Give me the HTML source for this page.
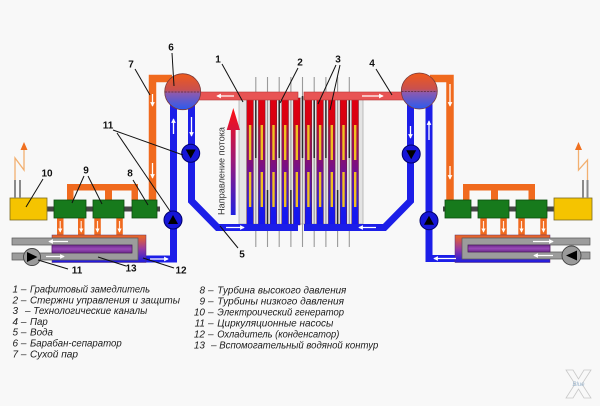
<!DOCTYPE html>
<html><head><meta charset="utf-8"><style>
html,body{margin:0;padding:0;background:#f8f8f8;}
svg{display:block;}
text{font-family:"Liberation Sans","DejaVu Sans",sans-serif;}
</style></head><body>
<svg width="600" height="406" viewBox="0 0 600 406" xmlns="http://www.w3.org/2000/svg">
<defs>
<marker id="ah" viewBox="0 0 6 6" refX="5" refY="3" markerWidth="3.6" markerHeight="3.6" orient="auto"><path d="M0,0L6,3L0,6z" fill="#fff"/></marker>
<linearGradient id="drum" x1="0" y1="0" x2="0" y2="1"><stop offset="0" stop-color="#f05a1a"/><stop offset="0.45" stop-color="#c85050"/><stop offset="0.55" stop-color="#8a5ab0"/><stop offset="1" stop-color="#2a5af0"/></linearGradient>
<linearGradient id="chan" x1="0" y1="98" x2="0" y2="225" gradientUnits="userSpaceOnUse"><stop offset="0" stop-color="#e00010"/><stop offset="0.2" stop-color="#d80010"/><stop offset="0.24" stop-color="#b01030"/><stop offset="0.55" stop-color="#781088"/><stop offset="0.8" stop-color="#3a20c8"/><stop offset="0.87" stop-color="#1818ec"/><stop offset="1" stop-color="#1515f0"/></linearGradient>
<linearGradient id="flow" x1="0" y1="108" x2="0" y2="215" gradientUnits="userSpaceOnUse"><stop offset="0" stop-color="#ff1010"/><stop offset="0.5" stop-color="#9a1a7a"/><stop offset="1" stop-color="#2020e0"/></linearGradient>
<linearGradient id="cond" x1="0" y1="0" x2="0" y2="1"><stop offset="0" stop-color="#f06a1e"/><stop offset="0.5" stop-color="#9a3aa0"/><stop offset="1" stop-color="#1a1ae0"/></linearGradient>
<linearGradient id="purp" x1="0" y1="0" x2="0" y2="1"><stop offset="0" stop-color="#6a2a8a"/><stop offset="0.5" stop-color="#9a4ab8"/><stop offset="1" stop-color="#6a2a8a"/></linearGradient>
</defs>
<rect width="600" height="406" fill="#f8f8f8"/>

<!-- ============ REACTOR ============ -->
<rect x="239" y="98" width="124" height="126" fill="#e4e4e4" stroke="#b0b0b0" stroke-width="0.8"/>
<g fill="url(#chan)" stroke="#5a1020" stroke-width="0.4">
<rect x="246.7" y="98" width="6.7" height="127"/>
<rect x="258.4" y="98" width="6.7" height="127"/>
<rect x="270.1" y="98" width="6.7" height="127"/>
<rect x="281.8" y="98" width="6.7" height="127"/>
<rect x="293.4" y="98" width="6.7" height="127"/>
<rect x="305" y="98" width="6.7" height="127"/>
<rect x="316.7" y="98" width="6.7" height="127"/>
<rect x="328.4" y="98" width="6.7" height="127"/>
<rect x="340.1" y="98" width="6.7" height="127"/>
<rect x="351.8" y="98" width="6.7" height="127"/>
</g>
<g fill="#f2c020">
<rect x="248.9" y="125" width="2.4" height="35"/><rect x="248.9" y="172" width="2.4" height="35"/>
<rect x="260.6" y="125" width="2.4" height="35"/><rect x="260.6" y="172" width="2.4" height="35"/>
<rect x="272.3" y="125" width="2.4" height="35"/><rect x="272.3" y="172" width="2.4" height="35"/>
<rect x="284" y="125" width="2.4" height="35"/><rect x="284" y="172" width="2.4" height="35"/>
<rect x="295.6" y="125" width="2.4" height="35"/><rect x="295.6" y="172" width="2.4" height="35"/>
<rect x="307.2" y="125" width="2.4" height="35"/><rect x="307.2" y="172" width="2.4" height="35"/>
<rect x="318.9" y="125" width="2.4" height="35"/><rect x="318.9" y="172" width="2.4" height="35"/>
<rect x="330.6" y="125" width="2.4" height="35"/><rect x="330.6" y="172" width="2.4" height="35"/>
<rect x="342.3" y="125" width="2.4" height="35"/><rect x="342.3" y="172" width="2.4" height="35"/>
<rect x="354" y="125" width="2.4" height="35"/><rect x="354" y="172" width="2.4" height="35"/>
</g>
<!-- control rods -->
<g stroke="#9a9a9a" stroke-width="1.1">
<line x1="255.8" y1="77" x2="255.8" y2="247"/>
<line x1="267.5" y1="77" x2="267.5" y2="247"/>
<line x1="279.2" y1="77" x2="279.2" y2="247"/>
<line x1="290.9" y1="77" x2="290.9" y2="247"/>
<line x1="302.5" y1="77" x2="302.5" y2="247"/>
<line x1="314.2" y1="77" x2="314.2" y2="247"/>
<line x1="325.9" y1="77" x2="325.9" y2="247"/>
<line x1="337.6" y1="77" x2="337.6" y2="247"/>
<line x1="349.3" y1="77" x2="349.3" y2="247"/>
</g>
<g stroke="#2a2a2a" stroke-width="1.5">
<line x1="255.8" y1="96" x2="255.8" y2="158"/>
<line x1="267.5" y1="190" x2="267.5" y2="227"/>
<line x1="279.2" y1="96" x2="279.2" y2="158"/>
<line x1="290.9" y1="190" x2="290.9" y2="227"/>
<line x1="302.5" y1="96" x2="302.5" y2="158"/>
<line x1="314.2" y1="96" x2="314.2" y2="158"/>
<line x1="325.9" y1="96" x2="325.9" y2="158"/>
<line x1="337.6" y1="190" x2="337.6" y2="227"/>
<line x1="349.3" y1="96" x2="349.3" y2="158"/>
</g>

<!-- flow arrow & text -->
<path d="M230.8,215 V130 H226.7 L233.3,108 L240,130 H235.6 V215 Z" fill="url(#flow)"/>
<text transform="translate(224.5,171) rotate(-90)" text-anchor="middle" font-size="9.5" fill="#333" textLength="88" lengthAdjust="spacingAndGlyphs">Направление потока</text>

<!-- ============ ORANGE PIPES (behind drums) ============ -->
<g fill="none" stroke="#f06a1e" stroke-width="7.5" stroke-linejoin="miter">
<path d="M172,78.5 H152.5 V201"/>
<path d="M430,78.5 H450 V201"/>
</g>
<g fill="#f06a1e">
<rect x="67" y="184" width="71" height="6.5"/><rect x="67" y="184" width="6.5" height="17"/><rect x="105" y="184" width="7" height="17"/><rect x="131.5" y="184" width="6.5" height="17"/>
<rect x="463" y="184" width="72" height="6.5"/><rect x="463" y="184" width="6.5" height="17"/><rect x="491" y="184" width="7" height="17"/><rect x="528.5" y="184" width="6.5" height="17"/>
<!-- down pipes to condenser -->
<rect x="57" y="217" width="6.5" height="19"/><rect x="78" y="217" width="6.5" height="19"/><rect x="94.3" y="217" width="6.5" height="19"/><rect x="116.3" y="217" width="6.5" height="19"/>
<rect x="480.3" y="217" width="6.5" height="19"/><rect x="500.3" y="217" width="6.5" height="19"/><rect x="518.3" y="217" width="6.5" height="19"/><rect x="540.3" y="217" width="6.5" height="19"/>
</g>

<!-- ============ RED HEADER ============ -->
<rect x="196" y="92" width="102" height="8" fill="#e85454" stroke="#b83838" stroke-width="0.6"/>
<rect x="304" y="92" width="101" height="8" fill="#e85454" stroke="#b83838" stroke-width="0.6"/>

<!-- ============ BLUE PIPES ============ -->
<g fill="none" stroke="#1c1ee8" stroke-width="7" stroke-linejoin="miter">
<path d="M191.5,104 V201 L217.5,227.5 H298"/>
<path d="M410.5,104 V201 L384.5,227.5 H304"/>
<path d="M140,259 H173.5 V104"/>
<path d="M460,258.5 H429 V104"/>
</g>

<!-- ============ DRUMS ============ -->
<circle cx="182.7" cy="91.7" r="18" fill="url(#drum)" stroke="#7a3a3a" stroke-width="0.8"/>
<line x1="165" y1="92" x2="200.5" y2="92" stroke="#5a2a3a" stroke-width="0.8" stroke-dasharray="2,1.2"/>
<circle cx="419.3" cy="91" r="18" fill="url(#drum)" stroke="#7a3a3a" stroke-width="0.8"/>
<line x1="401.5" y1="91.5" x2="437" y2="91.5" stroke="#5a2a3a" stroke-width="0.8" stroke-dasharray="2,1.2"/>

<!-- ============ PUMPS (blue) ============ -->
<g fill="#1616d8" stroke="#00006a" stroke-width="1">
<circle cx="190.7" cy="153.3" r="9"/>
<circle cx="173" cy="220" r="9"/>
<circle cx="411.2" cy="154" r="9"/>
<circle cx="429" cy="220.7" r="9"/>
</g>
<g fill="#000">
<path d="M185.7,149.5 H195.7 L190.7,158.5 Z"/>
<path d="M168,224 H178 L173,215 Z"/>
<path d="M406.2,150.2 H416.2 L411.2,159.2 Z"/>
<path d="M424,224.7 H434 L429,215.7 Z"/>
</g>

<!-- ============ TURBINES / SHAFTS / GENERATORS ============ -->
<rect x="47" y="206.5" width="113" height="5" fill="#454545"/>
<rect x="443" y="206.5" width="112" height="5" fill="#454545"/>
<g fill="#177a1c" stroke="#0b4d0e" stroke-width="0.8">
<rect x="54" y="200" width="32" height="18"/><rect x="93" y="200" width="31" height="18"/><rect x="132" y="200" width="25" height="18"/>
<rect x="445" y="200" width="26" height="18"/><rect x="478" y="200" width="31" height="18"/><rect x="516" y="200" width="31" height="18"/>
</g>
<g fill="#f5c400" stroke="#7a6a20" stroke-width="0.8">
<rect x="10" y="198" width="37" height="22"/>
<rect x="554" y="198" width="38" height="22"/>
</g>
<g stroke="#8a8a8a" stroke-width="2">
<line x1="15" y1="180" x2="15" y2="198"/><line x1="20" y1="180" x2="20" y2="198"/>
<line x1="583" y1="180" x2="583" y2="198"/><line x1="587.5" y1="180" x2="587.5" y2="198"/>
</g>
<g fill="none" stroke="#f2b070" stroke-width="1.3">
<polyline points="15,180 15,158 24,170 24,149"/>
<polyline points="578.5,149 578.5,170 587.5,160 587.5,180"/>
</g>
<g fill="#f07020">
<path d="M24,142 L20.5,150 H27.5 Z"/>
<path d="M578.5,142 L575,150 H582 Z"/>
</g>

<!-- ============ CONDENSERS ============ -->
<rect x="52" y="235" width="94" height="27.5" fill="url(#cond)" stroke="#5a2a6a" stroke-width="0.5"/>
<rect x="455" y="235" width="95" height="27.5" fill="url(#cond)" stroke="#5a2a6a" stroke-width="0.5"/>
<g fill="#9c9c9c" stroke="#5a5a5a" stroke-width="0.7">
<path d="M12,238 H138 V260 H12 V253 H132 V245 H12 Z"/>
<path d="M590,238 H462 V259 H590 V252 H468 V245 H590 Z"/>
</g>
<rect x="52" y="245" width="80" height="8" fill="url(#purp)" stroke="#4a1a5a" stroke-width="0.6"/>
<rect x="468" y="245" width="82" height="7" fill="url(#purp)" stroke="#4a1a5a" stroke-width="0.6"/>
<circle cx="32" cy="257" r="8.5" fill="#9a9a9a" stroke="#444" stroke-width="0.9"/>
<path d="M27,252 V262 L37.5,257 Z" fill="#000"/>
<circle cx="571.5" cy="255.5" r="9.5" fill="#9a9a9a" stroke="#444" stroke-width="0.9"/>
<path d="M577,250.5 V260.5 L566,255.5 Z" fill="#000"/>

<!-- ============ WHITE FLOW ARROWS ============ -->
<g stroke="#fff" stroke-width="1.3" marker-end="url(#ah)" fill="none">
<line x1="152.5" y1="94" x2="152.5" y2="106"/>
<line x1="152.5" y1="163" x2="152.5" y2="178"/>
<line x1="173.5" y1="134" x2="173.5" y2="119"/>
<line x1="191.5" y1="117" x2="191.5" y2="136"/>
<line x1="150" y1="259" x2="168" y2="259"/>
<line x1="234" y1="96" x2="217" y2="96"/>
<line x1="226" y1="227.5" x2="244" y2="227.5"/>
<line x1="68" y1="241.5" x2="49" y2="241.5"/>
<line x1="46" y1="256.5" x2="64" y2="256.5"/>
<line x1="450" y1="84" x2="450" y2="106"/>
<line x1="450" y1="166" x2="450" y2="179"/>
<line x1="410.5" y1="126" x2="410.5" y2="138"/>
<line x1="429" y1="140" x2="429" y2="121"/>
<line x1="456" y1="258.5" x2="434" y2="258.5"/>
<line x1="362" y1="96" x2="383" y2="96"/>
<line x1="376" y1="227.5" x2="359" y2="227.5"/>
<line x1="533" y1="241.5" x2="553" y2="241.5"/>
<line x1="553" y1="255.5" x2="534" y2="255.5"/>
</g>
<g stroke="#ffe8dc" stroke-width="1.2" marker-end="url(#ah)" fill="none">
<line x1="60.2" y1="221" x2="60.2" y2="232"/><line x1="81.2" y1="221" x2="81.2" y2="232"/><line x1="97.5" y1="221" x2="97.5" y2="232"/><line x1="119.5" y1="221" x2="119.5" y2="232"/>
<line x1="483.5" y1="221" x2="483.5" y2="232"/><line x1="503.5" y1="221" x2="503.5" y2="232"/><line x1="521.5" y1="221" x2="521.5" y2="232"/><line x1="543.5" y1="221" x2="543.5" y2="232"/>
</g>

<!-- ============ LEADER LINES ============ -->
<g stroke="#111" stroke-width="1" fill="none">
<line x1="172" y1="53" x2="174" y2="86"/>
<line x1="135" y1="69" x2="150" y2="95"/>
<line x1="113" y1="130" x2="183" y2="155"/>
<line x1="117" y1="133" x2="170" y2="211"/>
<line x1="43" y1="179" x2="26" y2="207"/>
<line x1="84" y1="176" x2="72" y2="203"/>
<line x1="88" y1="176" x2="102" y2="204"/>
<line x1="133" y1="180" x2="148" y2="205"/>
<line x1="38" y1="260" x2="68" y2="269"/>
<line x1="98" y1="257" x2="126" y2="266"/>
<line x1="143" y1="258" x2="174" y2="268"/>
<line x1="222" y1="64" x2="243" y2="102"/>
<line x1="298" y1="68" x2="280" y2="103"/>
<line x1="336" y1="65" x2="318" y2="104"/>
<line x1="340" y1="65" x2="330" y2="110"/>
<line x1="376" y1="69" x2="392" y2="95"/>
<line x1="220" y1="226" x2="238" y2="248"/>
</g>

<!-- ============ NUMBER LABELS ============ -->
<g font-size="10" font-weight="bold" fill="#111" text-anchor="middle">
<text x="171" y="50.5">6</text>
<text x="131" y="67.5">7</text>
<text x="108" y="128.5">11</text>
<text x="47" y="176.5">10</text>
<text x="86" y="173.5">9</text>
<text x="130" y="176.5">8</text>
<text x="77" y="273.5">11</text>
<text x="131" y="271.5">13</text>
<text x="181" y="273.5">12</text>
<text x="218" y="62.5">1</text>
<text x="300" y="65.5">2</text>
<text x="338" y="62.5">3</text>
<text x="372" y="66.5">4</text>
<text x="242" y="257.5">5</text>
</g>

<!-- ============ LEGEND ============ -->
<g font-size="10" font-style="italic" fill="#1a1a1a">
<text x="12.5" y="292.5">1 –</text><text x="30" y="292.5" textLength="120" lengthAdjust="spacingAndGlyphs">Графитовый замедлитель</text>
<text x="12.5" y="303.3">2 –</text><text x="30" y="303.3" textLength="150" lengthAdjust="spacingAndGlyphs">Стержни  управления и  защиты</text>
<text x="12.5" y="314.1">3</text><text x="25" y="314.1">–</text><text x="33.3" y="314.1" textLength="114" lengthAdjust="spacingAndGlyphs">Технологические каналы</text>
<text x="12.5" y="324.9">4 –</text><text x="30" y="324.9" textLength="17.7" lengthAdjust="spacingAndGlyphs">Пар</text>
<text x="12.5" y="335.7">5 –</text><text x="30" y="335.7" textLength="23" lengthAdjust="spacingAndGlyphs">Вода</text>
<text x="12.5" y="346.5">6 –</text><text x="30" y="346.5" textLength="91.7" lengthAdjust="spacingAndGlyphs">Барабан-сепаратор</text>
<text x="12.5" y="357.3">7 –</text><text x="30" y="357.3" textLength="48" lengthAdjust="spacingAndGlyphs">Сухой пар</text>

<text x="205" y="293.5" text-anchor="end">8</text><text x="208" y="293.5">–</text><text x="217.3" y="293.5" textLength="129" lengthAdjust="spacingAndGlyphs">Турбина высокого давления</text>
<text x="205" y="304.5" text-anchor="end">9</text><text x="208" y="304.5">–</text><text x="217.3" y="304.5" textLength="126.7" lengthAdjust="spacingAndGlyphs">Турбины низкого давления</text>
<text x="205" y="315.5" text-anchor="end">10</text><text x="208" y="315.5">–</text><text x="217.3" y="315.5" textLength="126.7" lengthAdjust="spacingAndGlyphs">Электроический генератор</text>
<text x="205" y="326.5" text-anchor="end">11</text><text x="208" y="326.5">–</text><text x="217.3" y="326.5" textLength="116" lengthAdjust="spacingAndGlyphs">Циркуляционные насосы</text>
<text x="205" y="337.5" text-anchor="end">12</text><text x="208" y="337.5">–</text><text x="217.3" y="337.5" textLength="122" lengthAdjust="spacingAndGlyphs">Охладитель (конденсатор)</text>
<text x="205" y="348.5" text-anchor="end">13</text><text x="211" y="348.5">–</text><text x="219.3" y="348.5" textLength="159" lengthAdjust="spacingAndGlyphs">Вспомогательный водяной контур</text>
</g>

<!-- watermark -->
<g fill="none" stroke="#c8c8c8" stroke-width="0.8">
<path d="M566,370 H573 L578.5,379 L584,370 H591 L582,384 L591,398 H584 L578.5,389 L573,398 H566 L575,384 Z"/>
</g>
<text x="578.5" y="386" text-anchor="middle" font-size="6" font-style="italic" fill="#9ab4cc">Blue</text>
</svg>
</body></html>
